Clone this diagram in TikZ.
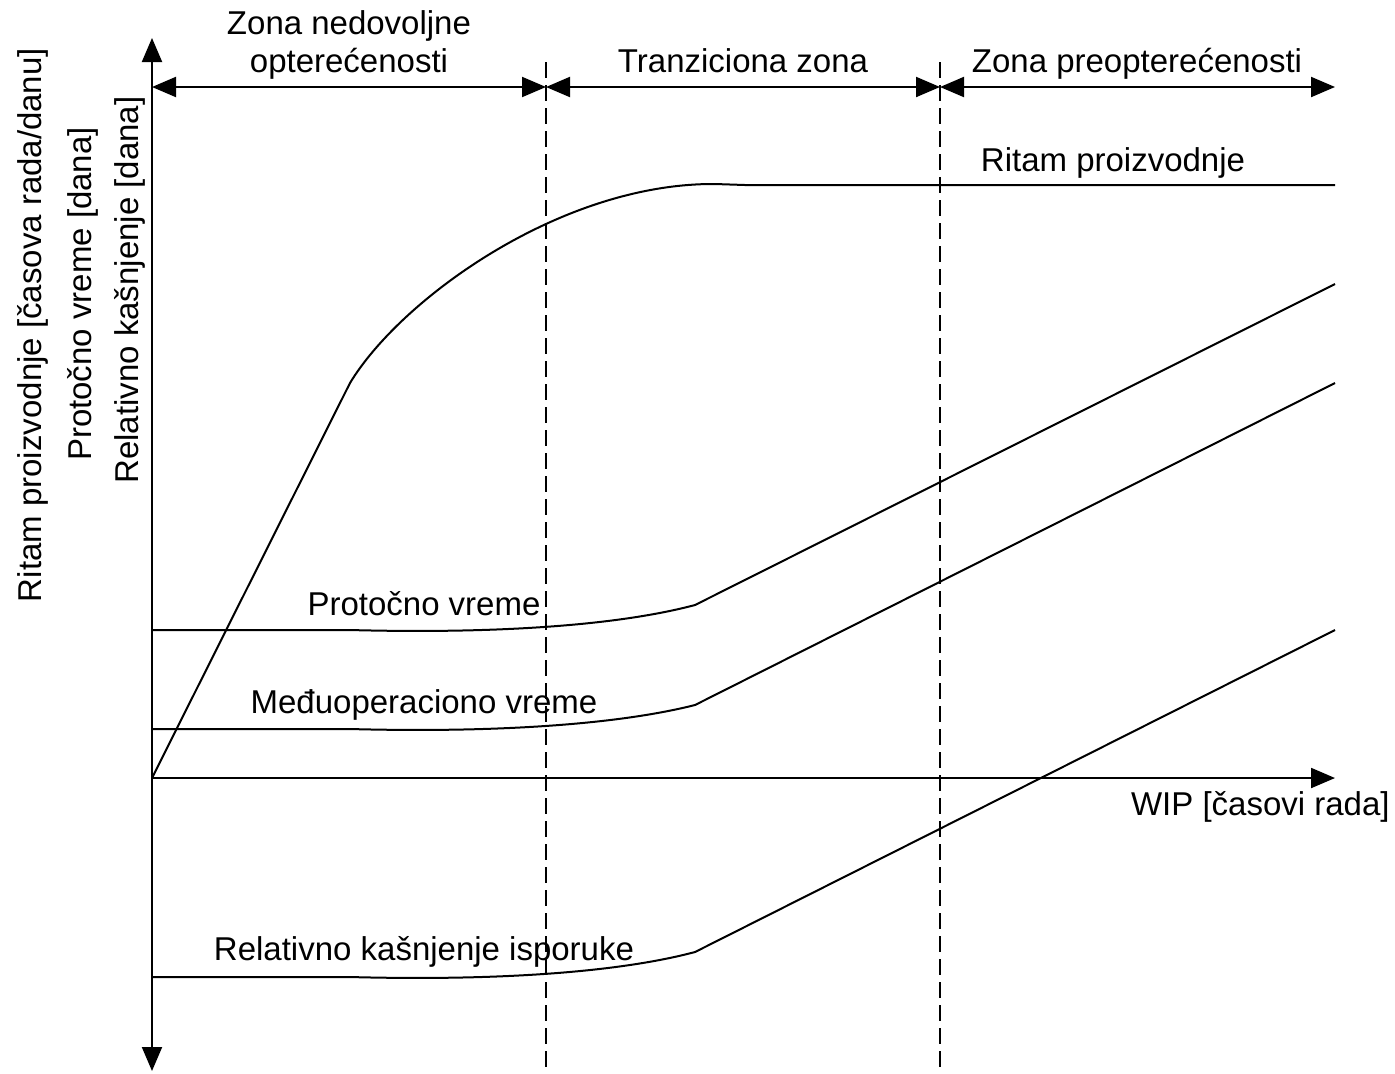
\documentclass[tikz,border=0pt]{standalone}
\usepackage{fontspec}
\setmainfont{Liberation Sans}
\usetikzlibrary{arrows.meta}
\tikzset{
  tip/.tip={Triangle[length=12pt,width=10pt]},
  ln/.style={line width=1pt, line join=round},
  zonedash/.style={line width=1pt, dash pattern=on 8pt off 3.5pt},
  lbl/.style={inner sep=0pt, font=\fontsize{16.5}{19}\selectfont},
}
\begin{document}
\begin{tikzpicture}[x=0.5pt,y=-0.5pt]
\useasboundingbox (0,0) rectangle (1395,1073);
% named points
\coordinate (O) at (152,778);
\coordinate (ytop) at (152,38);
\coordinate (ybot) at (152,1071);
\coordinate (xend) at (1335,778);
\coordinate (d1t) at (546,62);
\coordinate (d1b) at (546,1073);
\coordinate (d2t) at (940,62);
\coordinate (d2b) at (940,1073);
\coordinate (z0) at (152,87);
\coordinate (z1) at (546,87);
\coordinate (z2) at (940,87);
\coordinate (z3) at (1335,87);
% axes
\draw[ln,{tip}-{tip}] (ybot) -- (ytop);
\draw[ln,-{tip}] (O) -- (xend);
% zone separators
\draw[zonedash] (d1t) -- (d1b);
\draw[zonedash] (d2t) -- (d2b);
% zone arrows
\draw[ln,{tip}-{tip}] (z0) -- (z1);
\draw[ln,{tip}-{tip}] (z1) -- (z2);
\draw[ln,{tip}-{tip}] (z2) -- (z3);
% curves
\draw[ln] (O) -- (350,383) .. controls (400,300) and (560,183) .. (715,184) -- (745,185) -- (1335,185);
\draw[ln] (152,630) -- (350,630) .. controls (500,634) and (620,625) .. (695,605) -- (1335,284);
\draw[ln] (152,729) -- (350,729) .. controls (500,733) and (620,724) .. (695,705) -- (1335,383);
\draw[ln] (152,977) -- (350,977) .. controls (500,981) and (620,972) .. (695,952) -- (1335,630);
% zone labels
\node[lbl,anchor=base] (tz1a) at (349,34) {Zona nedovoljne};
\node[lbl,anchor=base] (tz1b) at (349,72) {opterećenosti};
\node[lbl,anchor=base] (tz2) at (743,72) {Tranziciona zona};
\node[lbl,anchor=base] (tz3) at (1137,72) {Zona preopterećenosti};
% curve labels
\node[lbl,anchor=base] (lr) at (1113,171) {Ritam proizvodnje};
\node[lbl,anchor=base] (lp) at (424,615) {Protočno vreme};
\node[lbl,anchor=base] (lm) at (424,713) {Međuoperaciono vreme};
\node[lbl,anchor=base] (lk) at (424,960) {Relativno kašnjenje isporuke};
\node[lbl,anchor=base east] (lw) at (1390,815) {WIP [časovi rada]};
% y-axis labels
\node[lbl,anchor=base,rotate=90] (y1) at (41,325) {Ritam proizvodnje [časova rada/danu]};
\node[lbl,anchor=base,rotate=90] (y2) at (91,294) {Protočno vreme [dana]};
\node[lbl,anchor=base,rotate=90] (y3) at (138,290) {Relativno kašnjenje [dana]};
\end{tikzpicture}
\end{document}
